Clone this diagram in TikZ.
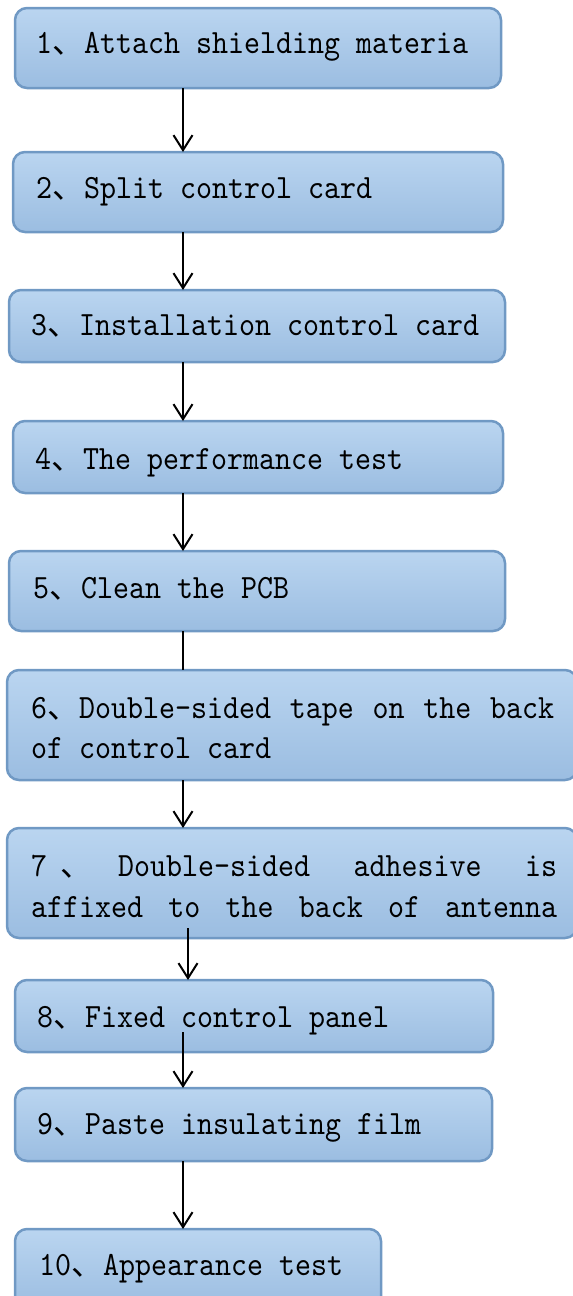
\documentclass[tikz,border=0pt]{standalone}
\usepackage{fontspec}
\usetikzlibrary{arrows.meta}
\newfontfamily\monof[FakeStretch=0.896]{lmmono10-regular.otf}
\newfontfamily\cjkf{Noto Sans CJK SC}
\newcommand{\dun}{{\cjkf\fontsize{32}{38}\selectfont 、}}
\definecolor{topc}{HTML}{BAD5F0}
\definecolor{botc}{HTML}{9BBDE1}
\definecolor{edgec}{HTML}{7099C4}
\begin{document}
\begin{tikzpicture}[x=1pt,y=-1pt,
  box/.style={draw=edgec, line width=2.5pt, rounded corners=12pt, top color=topc, bottom color=botc,
    anchor=north west, inner sep=0pt, outer sep=0pt},
  lbl/.style={inner sep=0pt, anchor=base west, font=\monof\fontsize{34}{40}\selectfont},
  arr/.style={line width=2pt, -{Straight Barb[length=15pt,width=19pt]}},
  plain/.style={line width=2pt}]
\useasboundingbox (0,0) rectangle (573,1296);
\clip (0,0) rectangle (573,1296);
% boxes
\node[box, minimum width=486pt, minimum height=80pt] (b1) at (15,8) {};
\node[box, minimum width=490pt, minimum height=80pt] (b2) at (13,152) {};
\node[box, minimum width=496pt, minimum height=72pt] (b3) at (9,290) {};
\node[box, minimum width=490pt, minimum height=72pt] (b4) at (13,421) {};
\node[box, minimum width=496pt, minimum height=80pt] (b5) at (9,551) {};
\node[box, minimum width=570pt, minimum height=110pt] (b6) at (7,670) {};
\node[box, minimum width=570pt, minimum height=110pt] (b7) at (7,828) {};
\node[box, minimum width=478pt, minimum height=72pt] (b8) at (15,980) {};
\node[box, minimum width=477pt, minimum height=73pt] (b9) at (15,1088) {};
\node[box, minimum width=366pt, minimum height=80pt] (b10) at (15,1229) {};
% labels
\node[lbl] (t1) at (36,53) {1\dun Attach shielding materia};
\node[lbl] (t2) at (36,198) {2\dun Split control card};
\node[lbl] (t3) at (31,335) {3\dun Installation control card};
\node[lbl] (t4) at (35,469) {4\dun The performance test};
\node[lbl] (t5) at (33,598) {5\dun Clean the PCB};
\node[lbl] (t6a) at (31,718) {\hbox to 523pt{6\dun Double-sided\hfill tape\hfill on\hfill the\hfill back}};
\node[lbl] (t6b) at (31,758) {of control card};
\node[lbl] (t7a) at (31,876) {\hbox to 526pt{7\hspace{13pt}\dun\hspace{26pt}Double-sided\hfill adhesive\hfill is}};
\node[lbl] (t7b) at (31,917) {\hbox to 526pt{affixed\hfill to\hfill the\hfill back\hfill of\hfill antenna}};
\node[lbl] (t8) at (37,1027) {8\dun Fixed control panel};
\node[lbl] (t9) at (37,1134) {9\dun Paste insulating film};
\node[lbl] (t10) at (39,1275) {10\dun Appearance test};
% connectors
\coordinate (ax) at (183,0);
\coordinate (s7) at (188,928);
\coordinate (s8) at (183,1032);
\draw[arr] (b1.south -| ax) -- (b2.north -| ax);
\draw[arr] (b2.south -| ax) -- (b3.north -| ax);
\draw[arr] (b3.south -| ax) -- (b4.north -| ax);
\draw[arr] (b4.south -| ax) -- (b5.north -| ax);
\draw[plain] (b5.south -| ax) -- (b6.north -| ax);
\draw[arr] (b6.south -| ax) -- (b7.north -| ax);
\draw[arr] (s7) -- (b8.north -| s7);
\draw[arr] (s8) -- (b9.north -| s8);
\draw[arr] (b9.south -| ax) -- (b10.north -| ax);
\end{tikzpicture}
\end{document}
